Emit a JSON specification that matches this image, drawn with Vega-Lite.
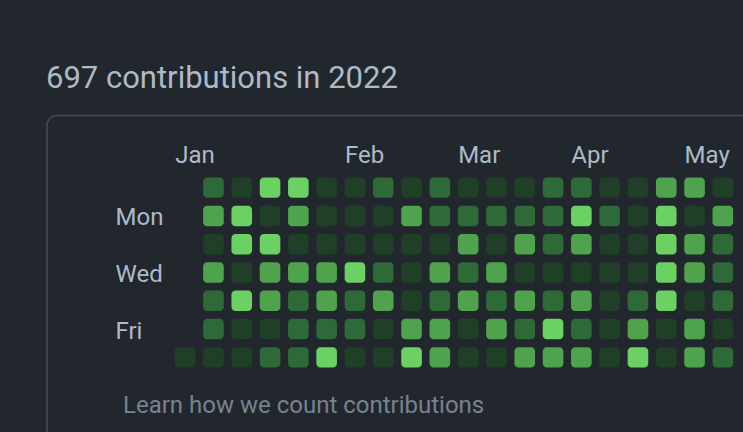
{
  "$schema": "https://vega.github.io/schema/vega-lite/v6.json",
  "autosize": "none",
  "width": 566,
  "height": 198,
  "padding": {"left": 171, "top": 173.5, "right": 6, "bottom": 60.5},
  "background": "#22272e",
  "config": {"view": {"stroke": null}, "font": "Roboto"},
  "resolve": {"axis": {"x": "independent", "y": "independent"}},
  "layer": [
    {
      "data": {"values": [{"item": "frame"}]},
      "mark": {"type": "rect", "fill": "transparent", "stroke": "#444c56", "strokeWidth": 1.5, "cornerRadius": 10},
      "encoding": {
        "x": {"datum": -4.882, "type": "quantitative", "scale": {"domain": [-0.5, 19.5], "nice": false, "zero": false}, "axis": null},
        "x2": {"datum": 30},
        "y": {"datum": -2.55, "type": "quantitative", "scale": {"domain": [-0.5, 6.5], "nice": false, "zero": false, "reverse": true}, "axis": null},
        "y2": {"datum": 14}
      }
    },
    {
      "data": {"values": [
        {"week": 0, "day": 6, "level": 1},
        {"week": 1, "day": 0, "level": 2}, {"week": 1, "day": 1, "level": 3}, {"week": 1, "day": 2, "level": 1}, {"week": 1, "day": 3, "level": 3}, {"week": 1, "day": 4, "level": 2}, {"week": 1, "day": 5, "level": 2}, {"week": 1, "day": 6, "level": 1},
        {"week": 2, "day": 0, "level": 1}, {"week": 2, "day": 1, "level": 4}, {"week": 2, "day": 2, "level": 4}, {"week": 2, "day": 3, "level": 1}, {"week": 2, "day": 4, "level": 4}, {"week": 2, "day": 5, "level": 1}, {"week": 2, "day": 6, "level": 1},
        {"week": 3, "day": 0, "level": 4}, {"week": 3, "day": 1, "level": 1}, {"week": 3, "day": 2, "level": 4}, {"week": 3, "day": 3, "level": 3}, {"week": 3, "day": 4, "level": 3}, {"week": 3, "day": 5, "level": 1}, {"week": 3, "day": 6, "level": 2},
        {"week": 4, "day": 0, "level": 4}, {"week": 4, "day": 1, "level": 3}, {"week": 4, "day": 2, "level": 1}, {"week": 4, "day": 3, "level": 3}, {"week": 4, "day": 4, "level": 2}, {"week": 4, "day": 5, "level": 2}, {"week": 4, "day": 6, "level": 2},
        {"week": 5, "day": 0, "level": 1}, {"week": 5, "day": 1, "level": 1}, {"week": 5, "day": 2, "level": 1}, {"week": 5, "day": 3, "level": 3}, {"week": 5, "day": 4, "level": 3}, {"week": 5, "day": 5, "level": 2}, {"week": 5, "day": 6, "level": 4},
        {"week": 6, "day": 0, "level": 1}, {"week": 6, "day": 1, "level": 1}, {"week": 6, "day": 2, "level": 1}, {"week": 6, "day": 3, "level": 4}, {"week": 6, "day": 4, "level": 2}, {"week": 6, "day": 5, "level": 2}, {"week": 6, "day": 6, "level": 1},
        {"week": 7, "day": 0, "level": 2}, {"week": 7, "day": 1, "level": 1}, {"week": 7, "day": 2, "level": 1}, {"week": 7, "day": 3, "level": 2}, {"week": 7, "day": 4, "level": 3}, {"week": 7, "day": 5, "level": 1}, {"week": 7, "day": 6, "level": 1},
        {"week": 8, "day": 0, "level": 1}, {"week": 8, "day": 1, "level": 3}, {"week": 8, "day": 2, "level": 1}, {"week": 8, "day": 3, "level": 1}, {"week": 8, "day": 4, "level": 1}, {"week": 8, "day": 5, "level": 3}, {"week": 8, "day": 6, "level": 4},
        {"week": 9, "day": 0, "level": 2}, {"week": 9, "day": 1, "level": 2}, {"week": 9, "day": 2, "level": 1}, {"week": 9, "day": 3, "level": 3}, {"week": 9, "day": 4, "level": 2}, {"week": 9, "day": 5, "level": 3}, {"week": 9, "day": 6, "level": 3},
        {"week": 10, "day": 0, "level": 1}, {"week": 10, "day": 1, "level": 2}, {"week": 10, "day": 2, "level": 3}, {"week": 10, "day": 3, "level": 2}, {"week": 10, "day": 4, "level": 3}, {"week": 10, "day": 5, "level": 1}, {"week": 10, "day": 6, "level": 1},
        {"week": 11, "day": 0, "level": 1}, {"week": 11, "day": 1, "level": 2}, {"week": 11, "day": 2, "level": 1}, {"week": 11, "day": 3, "level": 3}, {"week": 11, "day": 4, "level": 2}, {"week": 11, "day": 5, "level": 3}, {"week": 11, "day": 6, "level": 1},
        {"week": 12, "day": 0, "level": 1}, {"week": 12, "day": 1, "level": 2}, {"week": 12, "day": 2, "level": 3}, {"week": 12, "day": 3, "level": 1}, {"week": 12, "day": 4, "level": 3}, {"week": 12, "day": 5, "level": 2}, {"week": 12, "day": 6, "level": 3},
        {"week": 13, "day": 0, "level": 2}, {"week": 13, "day": 1, "level": 2}, {"week": 13, "day": 2, "level": 2}, {"week": 13, "day": 3, "level": 1}, {"week": 13, "day": 4, "level": 2}, {"week": 13, "day": 5, "level": 4}, {"week": 13, "day": 6, "level": 3},
        {"week": 14, "day": 0, "level": 2}, {"week": 14, "day": 1, "level": 4}, {"week": 14, "day": 2, "level": 3}, {"week": 14, "day": 3, "level": 1}, {"week": 14, "day": 4, "level": 3}, {"week": 14, "day": 5, "level": 2}, {"week": 14, "day": 6, "level": 3},
        {"week": 15, "day": 0, "level": 1}, {"week": 15, "day": 1, "level": 2}, {"week": 15, "day": 2, "level": 1}, {"week": 15, "day": 3, "level": 1}, {"week": 15, "day": 4, "level": 1}, {"week": 15, "day": 5, "level": 1}, {"week": 15, "day": 6, "level": 1},
        {"week": 16, "day": 0, "level": 1}, {"week": 16, "day": 1, "level": 1}, {"week": 16, "day": 2, "level": 1}, {"week": 16, "day": 3, "level": 1}, {"week": 16, "day": 4, "level": 2}, {"week": 16, "day": 5, "level": 3}, {"week": 16, "day": 6, "level": 4},
        {"week": 17, "day": 0, "level": 3}, {"week": 17, "day": 1, "level": 4}, {"week": 17, "day": 2, "level": 4}, {"week": 17, "day": 3, "level": 4}, {"week": 17, "day": 4, "level": 4}, {"week": 17, "day": 5, "level": 1}, {"week": 17, "day": 6, "level": 1},
        {"week": 18, "day": 0, "level": 3}, {"week": 18, "day": 1, "level": 1}, {"week": 18, "day": 2, "level": 3}, {"week": 18, "day": 3, "level": 3}, {"week": 18, "day": 4, "level": 1}, {"week": 18, "day": 5, "level": 3}, {"week": 18, "day": 6, "level": 3},
        {"week": 19, "day": 0, "level": 1}, {"week": 19, "day": 1, "level": 3}, {"week": 19, "day": 2, "level": 2}, {"week": 19, "day": 3, "level": 2}, {"week": 19, "day": 4, "level": 2}, {"week": 19, "day": 5, "level": 1}, {"week": 19, "day": 6, "level": 2}
      ]},
      "mark": {"type": "rect", "xOffset": -10.3, "x2Offset": 10.3, "yOffset": -10.2, "y2Offset": 10.2, "cornerRadius": 4},
      "encoding": {
        "x": {
          "field": "week", "type": "quantitative",
          "scale": {"domain": [-0.5, 19.5], "nice": false, "zero": false},
          "axis": {
            "orient": "top", "values": [0, 6, 10, 14, 18],
            "labelExpr": "datum.value == 0 ? 'Jan' : datum.value == 6 ? 'Feb' : datum.value == 10 ? 'Mar' : datum.value == 14 ? 'Apr' : 'May'",
            "ticks": false, "tickSize": 0, "domain": false, "grid": false,
            "labelAlign": "left", "labelOffset": -10.5, "labelPadding": 11, "labelBaseline": "alphabetic",
            "labelFontSize": 24, "labelFont": "Roboto", "labelColor": "#adbac7",
            "labelFlush": false, "labelOverlap": false, "labelBound": false, "title": null
          }
        },
        "x2": {"field": "week"},
        "y": {
          "field": "day", "type": "quantitative",
          "scale": {"domain": [-0.5, 6.5], "nice": false, "zero": false, "reverse": true},
          "axis": {
            "values": [1, 3, 5],
            "labelExpr": "datum.value == 1 ? 'Mon' : datum.value == 3 ? 'Wed' : 'Fri'",
            "ticks": false, "tickSize": 0, "domain": false, "grid": false,
            "labelAlign": "left", "labelPadding": 56, "labelBaseline": "middle", "labelOffset": 2,
            "labelFontSize": 24, "labelFont": "Roboto", "labelColor": "#adbac7",
            "labelFlush": false, "labelOverlap": false, "labelBound": false, "title": null
          }
        },
        "y2": {"field": "day"},
        "color": {
          "field": "level", "type": "ordinal",
          "scale": {"domain": [1, 2, 3, 4], "range": ["#1f4027", "#2d6a37", "#4fa34c", "#6bd163"]},
          "legend": null
        }
      }
    },
    {
      "data": {"values": [{"label": "697 contributions in 2022"}]},
      "mark": {"type": "text", "align": "left", "baseline": "alphabetic", "fontSize": 31, "font": "Roboto", "color": "#adbac7"},
      "encoding": {
        "x": {"datum": -4.917, "type": "quantitative", "scale": {"domain": [-0.5, 19.5], "nice": false, "zero": false}, "axis": null},
        "y": {"datum": -3.52, "type": "quantitative", "scale": {"domain": [-0.5, 6.5], "nice": false, "zero": false, "reverse": true}, "axis": null},
        "text": {"field": "label"}
      }
    },
    {
      "data": {"values": [{"label": "Learn how we count contributions"}]},
      "mark": {"type": "text", "align": "left", "baseline": "alphabetic", "fontSize": 24, "font": "Roboto", "color": "#768390"},
      "encoding": {
        "x": {"datum": -2.196, "type": "quantitative", "scale": {"domain": [-0.5, 19.5], "nice": false, "zero": false}, "axis": null},
        "y": {"datum": 7.978, "type": "quantitative", "scale": {"domain": [-0.5, 6.5], "nice": false, "zero": false, "reverse": true}, "axis": null},
        "text": {"field": "label"}
      }
    }
  ]
}
